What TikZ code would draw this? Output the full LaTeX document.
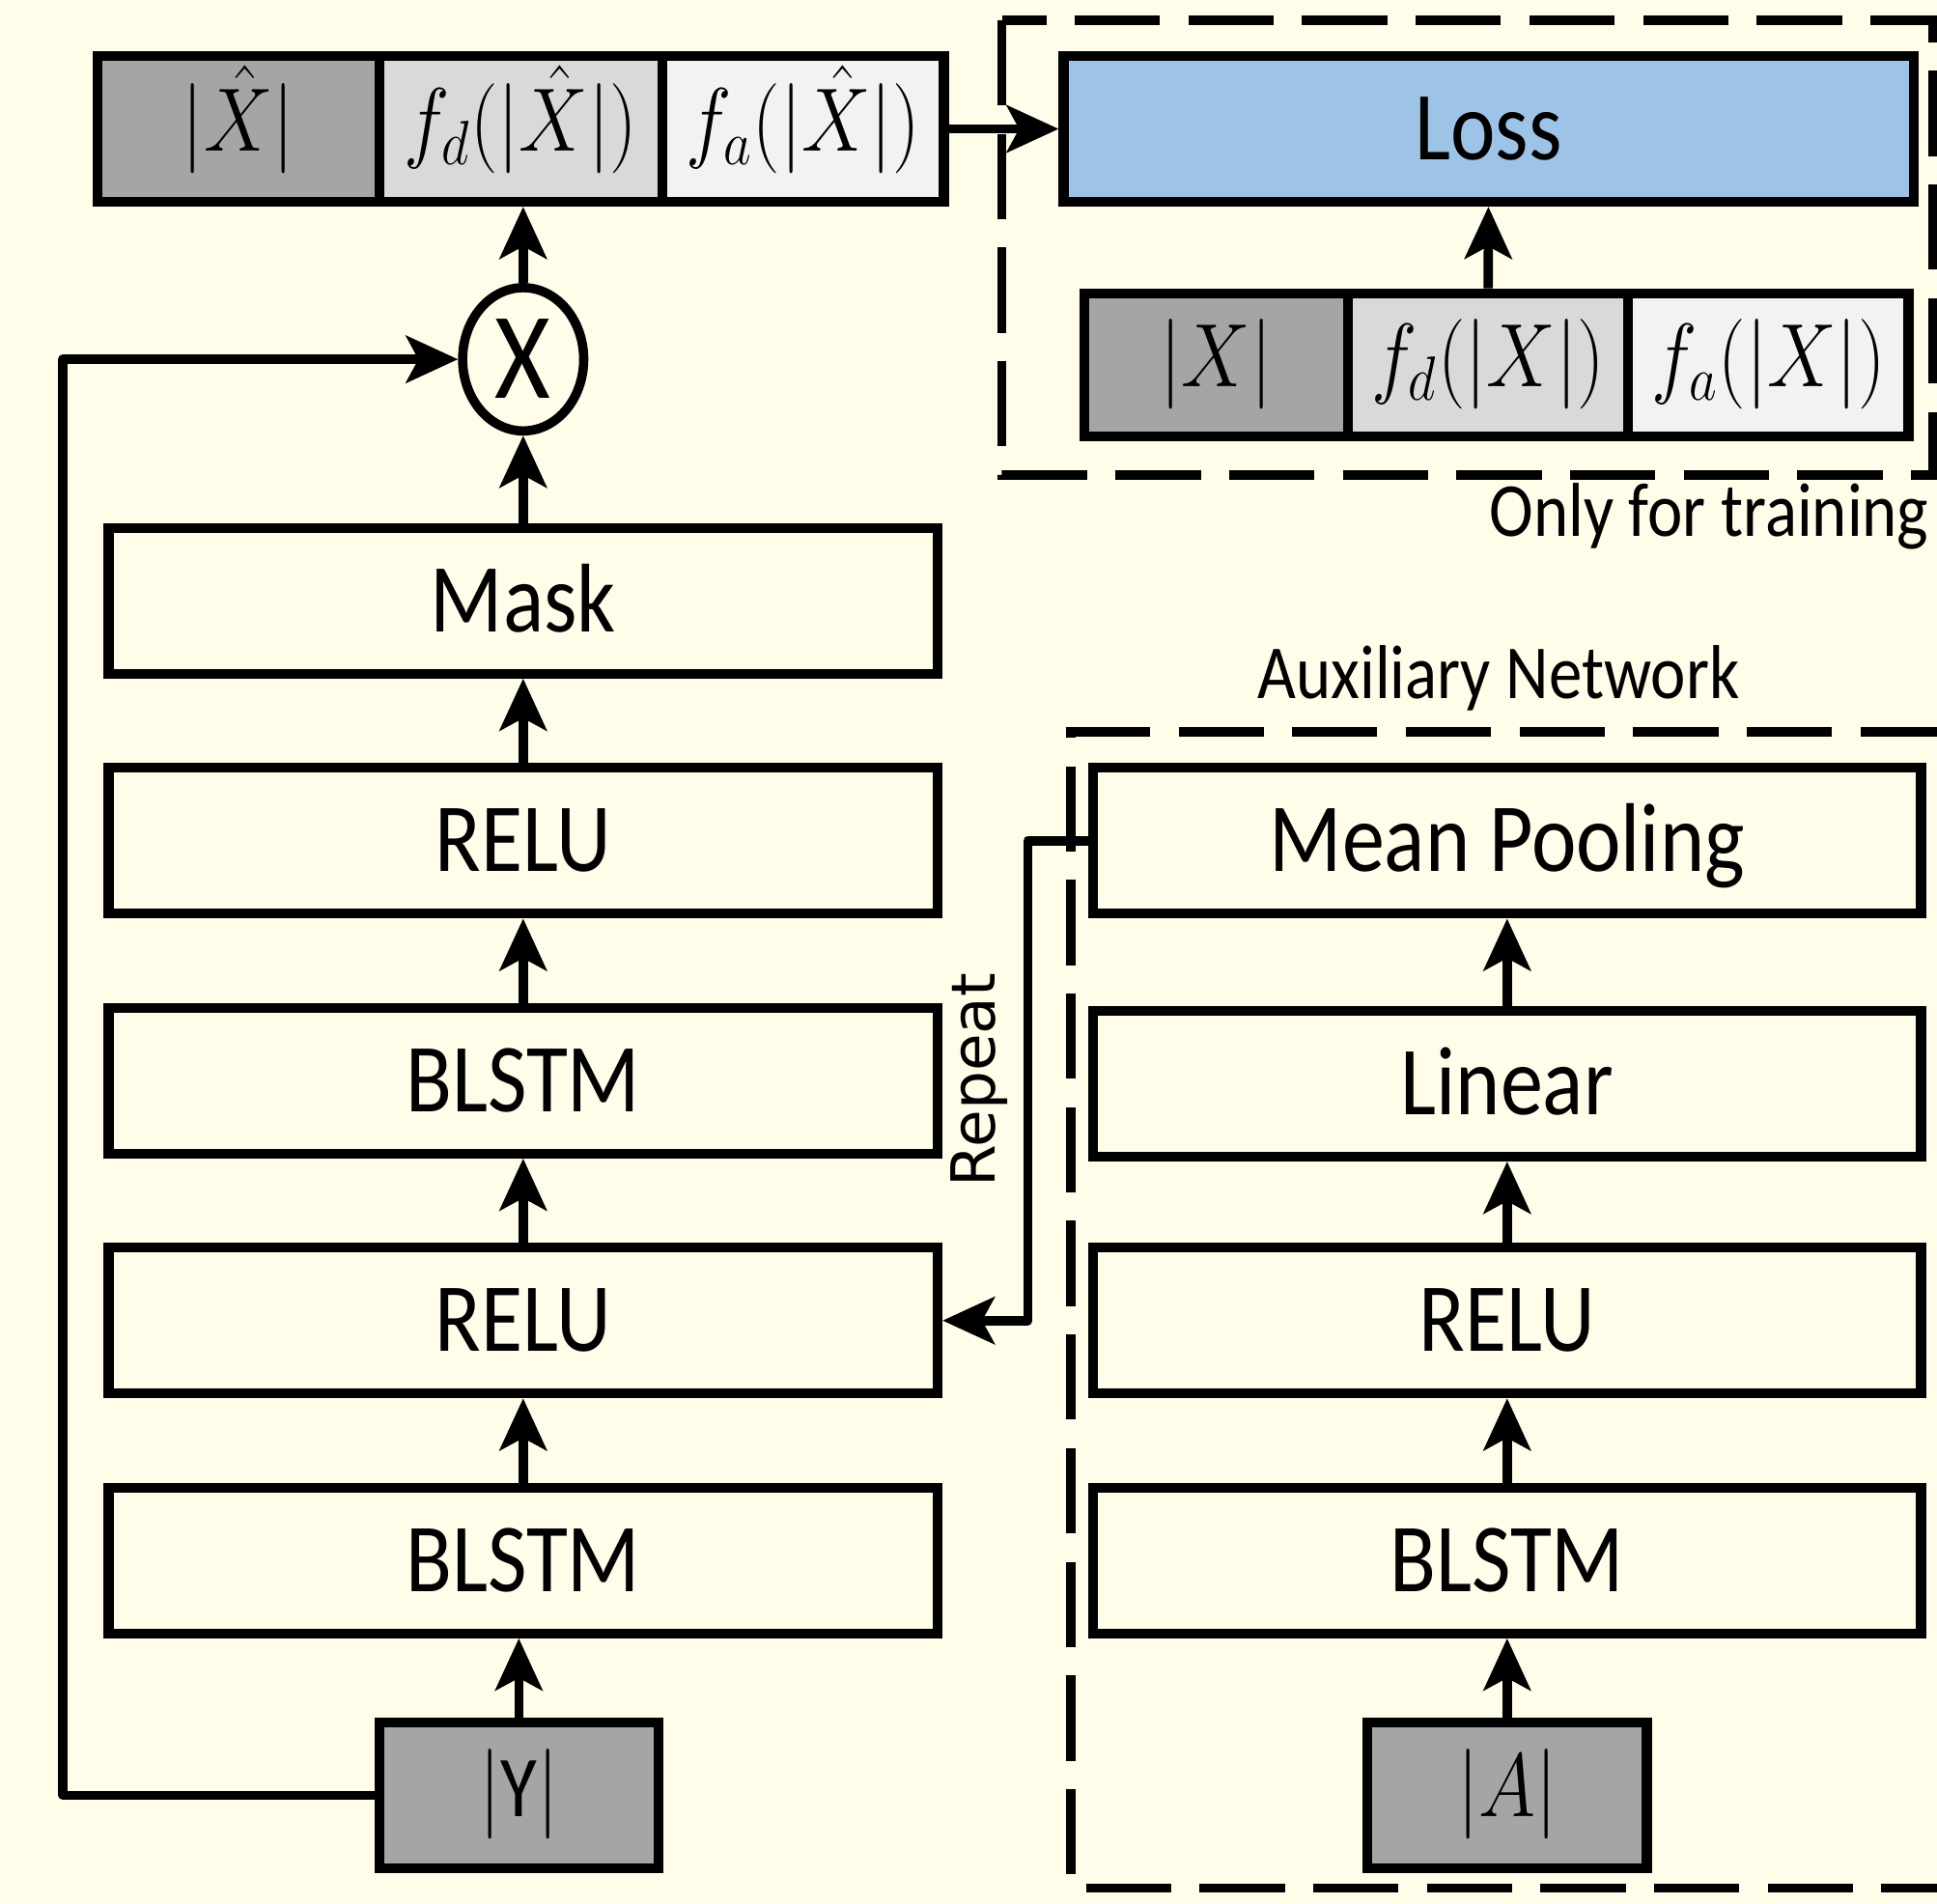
\documentclass[tikz,border=0pt]{standalone}
\usepackage{fontspec}
\usepackage{graphicx}
\usetikzlibrary{shapes.geometric, arrows.meta}
\setmainfont{Carlito}
\newfontfamily\boxfont[FakeStretch=0.87]{Carlito}
\newfontfamily\repfont{DejaVu Sans}
\definecolor{bgcream}{RGB}{255,252,233}
\definecolor{cellA}{HTML}{A5A5A5}
\definecolor{cellB}{HTML}{D9D9D9}
\definecolor{cellC}{HTML}{F2F2F2}
\definecolor{lossblue}{HTML}{9DC3E6}
\newcommand{\nmath}[1]{\scalebox{0.86}[1]{$#1$}}
\tikzset{
layer/.style={draw, line width=0.08cm, inner sep=0pt, minimum width=6.71cm, minimum height=1.18cm,
  font=\boxfont\fontsize{22.5}{27}\selectfont, text height=14.2pt, text depth=0pt},
cell/.style={draw, line width=0.08cm, inner sep=0pt, minimum height=1.18cm,
  font=\fontsize{20}{24}\selectfont, text height=15pt, text depth=5pt},
flow/.style={line width=0.075cm, line join=round, -{Stealth[length=0.42cm, width=0.38cm, inset=0.1cm]}},
region/.style={line width=0.075cm, dash pattern=on 0.69cm off 0.23cm},
note/.style={font=\boxfont\fontsize{17.6}{21}\selectfont, inner sep=0pt},
}

\begin{document}
\begin{tikzpicture}
\fill[bgcream] (0,0) rectangle (15.68,15.414);
\useasboundingbox (0,0) rectangle (15.68,15.414);

% dashed regions
\draw[region] (8.11,15.25) rectangle (15.65,11.57);
\draw[region] (15.75,9.49) -- (8.67,9.49) -- (8.67,0.13) -- (15.75,0.13);

% separation network
\node[layer] (mask) at (4.235,10.55) {Mask};
\node[layer] (relu2) at (4.235,8.607) {RELU};
\node[layer] (blstm2) at (4.235,6.665) {BLSTM};
\node[layer] (relu1) at (4.235,4.723) {RELU};
\node[layer] (blstm1) at (4.235,2.78) {BLSTM};
\node[cell, fill=cellA, minimum width=2.26cm] (magY) at (4.20,0.88) {\nmath{|\mathrm{Y}|}};

\node[ellipse, draw, line width=0.075cm, minimum width=0.98cm, minimum height=1.16cm, inner sep=0pt,
  font=\boxfont\fontsize{28.4}{30}\selectfont, text height=18pt, text depth=0pt] (mult) at (4.235,12.505) {X};

\node[cell, fill=cellA, minimum width=2.28cm] (xhat) at (1.93,14.37) {\nmath{|\hat{X}|}};
\node[cell, fill=cellB, minimum width=2.29cm] (fdhat) at (4.215,14.37) {\nmath{f_d(|\hat{X}|)}};
\node[cell, fill=cellC, minimum width=2.28cm] (fahat) at (6.50,14.37) {\nmath{f_a(|\hat{X}|)}};

% auxiliary network
\node[layer, minimum width=6.70cm] (pool) at (12.20,8.607) {Mean Pooling};
\node[layer, minimum width=6.70cm] (linear) at (12.20,6.64) {Linear};
\node[layer, minimum width=6.70cm] (reluA) at (12.20,4.723) {RELU};
\node[layer, minimum width=6.70cm] (blstmA) at (12.20,2.78) {BLSTM};
\node[cell, fill=cellA, minimum width=2.26cm] (magA) at (12.20,0.88) {\nmath{|A|}};

% training only
\node[layer, fill=lossblue, minimum width=6.88cm] (loss) at (12.05,14.37) {Loss};
\node[cell, fill=cellA, minimum width=2.13cm, minimum height=1.16cm] (xabs) at (9.845,12.46) {\nmath{|X|}};
\node[cell, fill=cellB, minimum width=2.27cm, minimum height=1.16cm] (fdx) at (12.045,12.46) {\nmath{f_d(|X|)}};
\node[cell, fill=cellC, minimum width=2.27cm, minimum height=1.16cm] (fax) at (14.315,12.46) {\nmath{f_a(|X|)}};

\node[note, anchor=base] (auxlabel) at (12.13,9.76) {Auxiliary Network};
\node[note, anchor=base east] (trainlabel) at (15.62,11.07) {Only for training};
\node[font=\repfont\fontsize{14}{17}\selectfont, rotate=90, inner sep=0pt] (replabel) at (7.93,6.67) {Repeat};

% connectors
\coordinate (fb) at (0.51,0);
\coordinate (rep) at (8.32,0);
\draw[flow] (magY.north) -- (magY.north |- blstm1.south);
\foreach \a/\b in {blstm1/relu1, relu1/blstm2, blstm2/relu2, relu2/mask, mask/mult,
  magA/blstmA, blstmA/reluA, reluA/linear, linear/pool, fahat/loss, fdx/loss}
  \draw[flow] (\a) -- (\b);
\draw[flow] (mult.north) -- (mult.north |- fdhat.south);
\draw[flow] (magY.west) -| (fb |- mult.west) -- (mult.west);
\draw[flow] (pool.west) -| (rep |- relu1.east) -- (relu1.east);
\end{tikzpicture}
\end{document}
